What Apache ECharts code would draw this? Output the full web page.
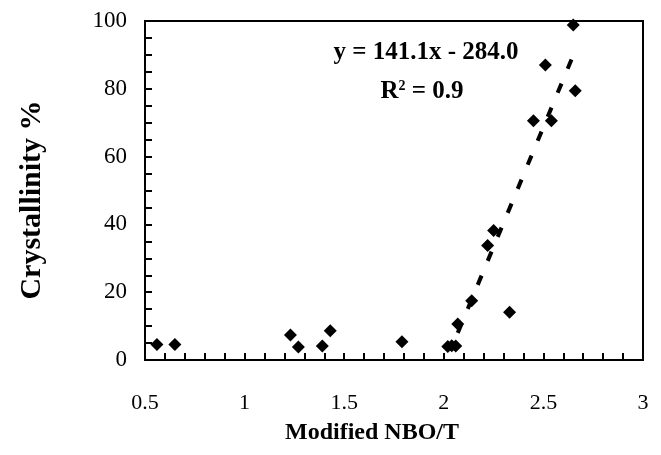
<!DOCTYPE html>
<html>
<head>
<meta charset="utf-8">
<script src="https://cdn.jsdelivr.net/npm/echarts@6/dist/echarts.min.js"></script>
<style>
  html, body { margin: 0; padding: 0; background: #fff; }
  #chart { width: 661px; height: 455px; }
</style>
</head>
<body>
<div id="chart"></div>
<script>
// measured points
const nboT = [0.56, 0.65, 1.23, 1.27, 1.39, 1.43, 1.79, 2.02, 2.04, 2.06, 2.07, 2.14, 2.22, 2.25, 2.33, 2.45, 2.51, 2.54, 2.65, 2.66];
const crystallinity = [4.6, 4.6, 7.4, 3.8, 4.1, 8.6, 5.4, 4.0, 4.2, 4.1, 10.6, 17.5, 33.8, 38.2, 14.1, 70.6, 87.0, 70.6, 98.8, 79.4];

// trend line ends (y = 141.1x - 284.0)
const trendX = [2.07, 2.665];
const trendY = [8, 92];

const xTicks = [0.5, 3, 0.5];   // min, max, step
const yTicks = [0, 100, 20];

const FONT = '"Liberation Serif", "Times New Roman", serif';

const chart = echarts.init(document.getElementById('chart'));

chart.setOption({
  animation: false,
  grid: {
    left: 145, right: 18, top: 21, bottom: 95,
    show: true, borderColor: '#000', borderWidth: 2
  },
  xAxis: {
    type: 'value',
    min: xTicks[0], max: xTicks[1], interval: xTicks[2],
    axisLine: { lineStyle: { color: '#000', width: 2 } },
    axisTick: { inside: true, length: 7, lineStyle: { color: '#000', width: 2 } },
    minorTick: { show: true, splitNumber: 5, length: 7, lineStyle: { color: '#000', width: 2 } },
    splitLine: { show: false },
    axisLabel: {
      color: '#000', fontFamily: FONT, fontSize: 22, margin: 32,
      formatter: v => String(v)
    }
  },
  yAxis: {
    type: 'value',
    min: yTicks[0], max: yTicks[1], interval: yTicks[2],
    axisLine: { show: true, lineStyle: { color: '#000', width: 2 } },
    axisTick: { show: true, inside: true, length: 7, lineStyle: { color: '#000', width: 2 } },
    minorTick: { show: true, splitNumber: 4, length: 7, lineStyle: { color: '#000', width: 2 } },
    splitLine: { show: false },
    axisLabel: { color: '#000', fontFamily: FONT, fontSize: 23, margin: 18 }
  },
  series: [
    {
      type: 'line',
      data: trendX.map((x, i) => [x, trendY[i]]),
      symbol: 'none',
      lineStyle: { color: '#000', width: 4, type: [10, 16] },
      z: 1
    },
    {
      type: 'scatter',
      data: nboT.map((x, i) => [x, crystallinity[i]]),
      symbol: 'diamond',
      symbolSize: 13,
      itemStyle: { color: '#000', opacity: 1 },
      z: 2
    }
  ],
  graphic: [
    {
      type: 'text', x: 32, y: 200, rotation: Math.PI / 2,
      style: {
        text: 'Crystallinity %', fill: '#000',
        font: 'bold 30px ' + FONT, align: 'center', verticalAlign: 'middle'
      }
    },
    {
      type: 'text', x: 372, y: 433,
      style: {
        text: 'Modified NBO/T', fill: '#000',
        font: 'bold 24px ' + FONT, align: 'center', verticalAlign: 'middle'
      }
    },
    {
      type: 'text', x: 426, y: 53,
      style: {
        text: 'y = 141.1x - 284.0', fill: '#000',
        font: 'bold 25px ' + FONT, align: 'center', verticalAlign: 'middle'
      }
    },
    {
      type: 'text', x: 422, y: 92,
      style: {
        text: 'R{sup|2} = 0.9', fill: '#000',
        font: 'bold 25px ' + FONT, align: 'center', verticalAlign: 'middle',
        rich: {
          sup: { font: 'bold 14px ' + FONT, verticalAlign: 'bottom', padding: [0, 0, 12, 0] }
        }
      }
    }
  ]
});
</script>
</body>
</html>
